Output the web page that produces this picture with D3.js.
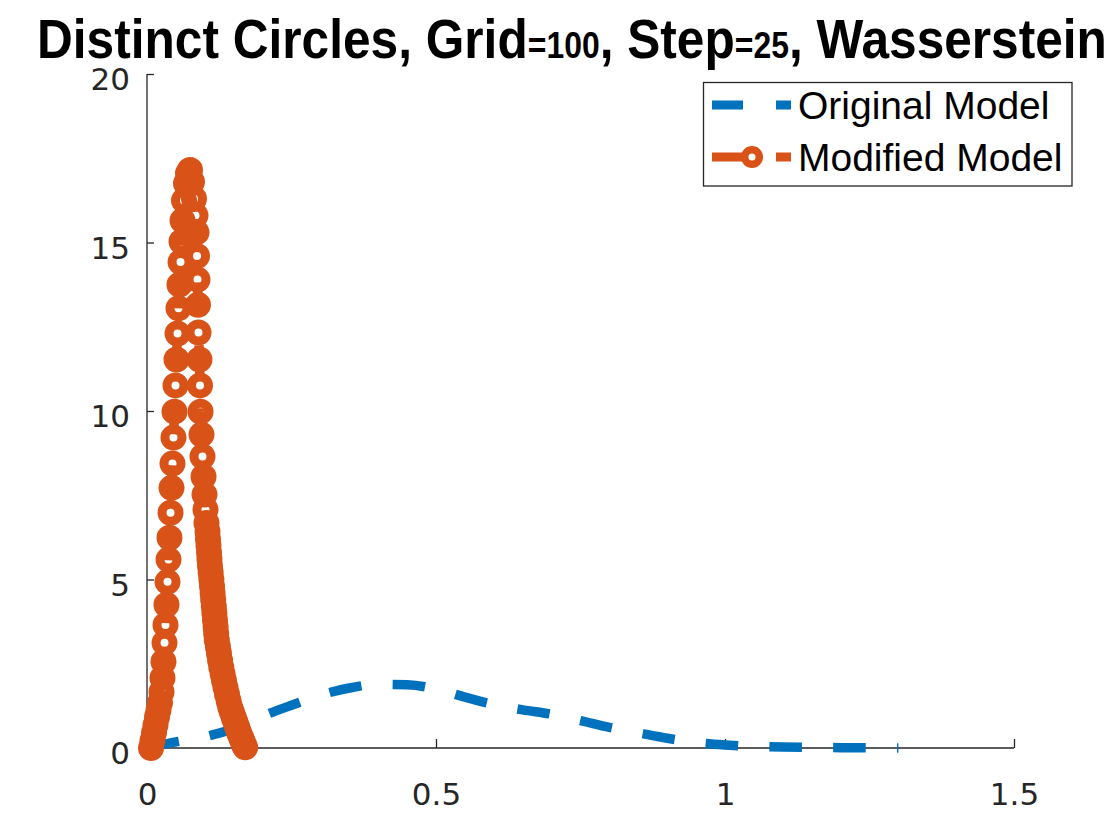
<!DOCTYPE html>
<html>
<head>
<meta charset="utf-8">
<script src="https://cdn.jsdelivr.net/npm/d3@7"></script>
<style>
  html, body { margin: 0; padding: 0; background: #fff; }
  svg { display: block; }
</style>
</head>
<body>
<svg id="chart" width="1120" height="840"></svg>
<script>
// ---------------- data ----------------
const xTicks = [0, 0.5, 1, 1.5];
const xTickLabels = ["0", "0.5", "1", "1.5"];
const yTicks = [0, 5, 10, 15, 20];
const yTickLabels = ["0", "5", "10", "15", "20"];

const titleParts = ["Distinct Circles, Grid", "=100", ", Step", "=25", ", Wasserstein"];
const titleSmall = [false, true, false, true, false];

const seriesNames = ["Original Model", "Modified Model"];

// Original Model (blue dashed)
const origX = [0.00, 0.05, 0.10, 0.15, 0.20, 0.25, 0.30, 0.35, 0.40, 0.45, 0.50, 0.55, 0.60, 0.65,
               0.70, 0.75, 0.80, 0.85, 0.90, 0.95, 1.00, 1.05, 1.10, 1.15, 1.20, 1.25, 1.30];
const origY = [0.00, 0.18, 0.33, 0.58, 0.95, 1.27, 1.57, 1.78, 1.89, 1.88, 1.75, 1.51, 1.29, 1.13,
               1.00, 0.81, 0.61, 0.45, 0.29, 0.16, 0.09, 0.05, 0.03, 0.02, 0.01, 0.005, 0.00];

// Modified Model (orange, dashed with circle markers)
const modX = [0.0069, 0.0095, 0.0121, 0.0147, 0.0173, 0.0199, 0.0225, 0.0251, 0.0268, 0.0285,
              0.0303, 0.0320, 0.0337, 0.0355, 0.0372, 0.0389, 0.0407, 0.0424, 0.0441, 0.0458,
              0.0476, 0.0493, 0.0510, 0.0528, 0.0545, 0.0562, 0.0580, 0.0597, 0.0614, 0.0640,
              0.0675, 0.0709, 0.0744,
              0.0779, 0.0813, 0.0839, 0.0856, 0.0865, 0.0874, 0.0882, 0.0891, 0.0908, 0.0917,
              0.0926, 0.0943, 0.0960, 0.0978, 0.0995, 0.1012, 0.1029, 0.1047,
              0.1055, 0.1064, 0.1073, 0.1081, 0.1090, 0.1102, 0.1114, 0.1125, 0.1135, 0.1145,
              0.1156, 0.1166, 0.1176, 0.1187, 0.1197, 0.1208, 0.1228, 0.1246, 0.1265, 0.1285,
              0.1308, 0.1332, 0.1358, 0.1384, 0.1412, 0.1441, 0.1471, 0.1502, 0.1533, 0.1564,
              0.1595, 0.1626, 0.1654, 0.1678, 0.1699];
const modY = [0.00, 0.22, 0.45, 0.68, 0.92, 1.13, 1.34, 1.66, 2.08, 2.56,
              3.12, 3.65, 4.25, 4.93, 5.59, 6.24, 6.98, 7.72, 8.44, 9.21,
              9.98, 10.76, 11.53, 12.30, 13.05, 13.75, 14.42, 15.03, 15.65, 16.25,
              16.75, 17.05, 17.15,
              16.80, 16.30, 15.80, 15.30, 14.60, 13.90, 13.15, 12.33, 11.53, 10.76,
              9.98, 9.30, 8.65, 8.05, 7.52, 7.07, 6.68, 6.42,
              6.20, 6.00, 5.80, 5.60, 5.40, 5.20, 5.00, 4.80, 4.60, 4.40,
              4.20, 4.00, 3.80, 3.60, 3.40, 3.20, 3.00, 2.80, 2.60, 2.40,
              2.20, 2.00, 1.80, 1.60, 1.40, 1.20, 1.05, 0.90, 0.75, 0.60,
              0.45, 0.32, 0.20, 0.10, 0.02];

// ---------------- drawing ----------------
const BLUE = "#0072BD", ORANGE = "#D95319", AX = "#262626";
const svg = d3.select("#chart");

const x = d3.scaleLinear().domain([0, 1.5]).range([147, 1014]);
const y = d3.scaleLinear().domain([0, 20]).range([748, 74]);

// axes
const xAxis = d3.axisBottom(x).tickValues(xTicks).tickSize(-9).tickFormat((d, i) => xTickLabels[i]);
const yAxis = d3.axisLeft(y).tickValues(yTicks).tickSize(-7).tickFormat((d, i) => yTickLabels[i]).tickPadding(17);

const gx = svg.append("g").attr("transform", `translate(0,${y(0)})`).call(xAxis);
const gy = svg.append("g").attr("transform", `translate(${x(0)},0)`).call(yAxis);

[gx, gy].forEach(g => {
  g.select(".domain").attr("stroke", AX).attr("stroke-width", 1.3);
  g.selectAll(".tick line").attr("stroke", AX).attr("stroke-width", 1.3);
  g.selectAll(".tick text").attr("fill", AX).attr("font-family", "DejaVu Sans, sans-serif").attr("font-size", 31);
});
gx.select(".domain").attr("d", `M${x(0)},0H${x(1.5)}`);
gy.select(".domain").attr("d", `M0,${y(20)}V${y(0)}`);
gx.selectAll(".tick text").attr("dy", null).attr("y", 57);
gy.selectAll(".tick text").attr("dy", "0.5em");
gx.selectAll(".tick").filter(d => d === 0).select("line").remove();
gy.selectAll(".tick").filter(d => d === 0).select("line").remove();

// lines
const origData = origX.map((v, i) => [v, origY[i]]);
const modData = modX.map((v, i) => [v, modY[i]]);

const lineSmooth = d3.line().x(d => x(d[0])).y(d => y(d[1])).curve(d3.curveMonotoneX);
const lineStraight = d3.line().x(d => x(d[0])).y(d => y(d[1]));

const bluePath = svg.append("path")
  .attr("d", lineSmooth(origData))
  .attr("fill", "none").attr("stroke", BLUE).attr("stroke-width", 9.5);
const L = bluePath.node().getTotalLength();
const nPer = Math.max(1, Math.round(L / 63.3));
const per = (L - 1.5) / nPer;
bluePath.attr("stroke-dasharray", `${(per * 0.51).toFixed(2)},${(per * 0.49).toFixed(2)}`);

svg.append("path")
  .attr("d", lineStraight(modData))
  .attr("fill", "none").attr("stroke", ORANGE).attr("stroke-width", 9.5)
  .attr("stroke-dasharray", "32,31");

svg.append("g").selectAll("circle").data(modData).join("circle")
  .attr("cx", d => x(d[0])).attr("cy", d => y(d[1]))
  .attr("r", 8.5).attr("fill", "none").attr("stroke", ORANGE).attr("stroke-width", 9);

// title: pieces placed side by side, then squeezed horizontally to the reference width
const tg = svg.append("g");
let cursor = 0;
titleParts.forEach((t, i) => {
  const el = tg.append("text")
    .attr("x", cursor).attr("y", 0)
    .attr("font-family", "Liberation Sans, Arial, sans-serif")
    .attr("font-weight", "bold").attr("font-size", titleSmall[i] ? 36 : 56)
    .attr("fill", "#000").text(t);
  cursor += el.node().getComputedTextLength();
});
const sx = 1070 / cursor;
tg.attr("transform", `translate(37,58) scale(${sx.toFixed(4)},1)`);

// legend
const lg = svg.append("g");
lg.append("rect").attr("x", 703.5).attr("y", 82.5).attr("width", 368.5).attr("height", 103.5)
  .attr("fill", "#fff").attr("stroke", AX).attr("stroke-width", 1.3);
const legendRows = [
  { name: seriesNames[0], color: BLUE, y: 105, marker: false },
  { name: seriesNames[1], color: ORANGE, y: 157, marker: true }
];
legendRows.forEach(r => {
  lg.append("line").attr("x1", 712).attr("x2", 791).attr("y1", r.y).attr("y2", r.y)
    .attr("stroke", r.color).attr("stroke-width", 9).attr("stroke-dasharray", "31,33");
  if (r.marker) {
    lg.append("circle").attr("cx", 752).attr("cy", r.y).attr("r", 7.3)
      .attr("fill", "none").attr("stroke", r.color).attr("stroke-width", 7.5);
  }
  lg.append("text").attr("x", 798).attr("y", r.y + 14)
    .attr("font-family", "Liberation Sans, Arial, sans-serif").attr("font-size", 39)
    .attr("fill", "#000").text(r.name);
});
</script>
</body>
</html>
